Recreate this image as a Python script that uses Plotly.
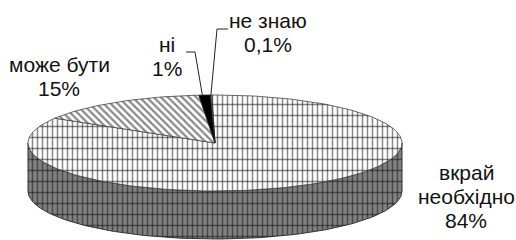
import numpy as np
import plotly.graph_objects as go

# ---- data ----
categories = ["вкрай необхідно", "може бути", "ні", "не знаю"]
values = [84, 15, 1, 0.1]
value_labels = ["84%", "15%", "1%", "0,1%"]
label_lines = [["вкрай", "необхідно"], ["може бути"], ["ні"], ["не знаю"]]

# ---- geometry / style (layout, not data) ----
W, H = 516, 240
CX, CY, A, B, DEPTH = 215, 143, 187, 48, 48
START = -1.0  # degrees, clockwise from 12 o'clock
label_x = [466, 59, 167, 268]
label_y0 = [172, 64, 44, 20]
LINE_H = 24
FONT = dict(family="Liberation Sans, Arial", size=21, color="#111")

def ell(theta_deg, dy=0.0):
    t = np.radians(theta_deg)
    return CX + A * np.sin(t), CY - B * np.cos(t) + dy

total = sum(values)
angles = [v / total * 360 for v in values]
bounds = [START]
for a in angles:
    bounds.append(bounds[-1] + a)

fig = go.Figure()

V_PAT = dict(shape="|", size=5, solidity=0.3, fgcolor="#111")
H_PAT = dict(shape="-", size=11, solidity=0.14, fgcolor="#111", bgcolor="rgba(0,0,0,0)")

# side wall (front half, belongs to first slice)
th = np.linspace(90, 270, 120)
xs_top, ys_top = ell(th)
xs_bot, ys_bot = ell(th[::-1], DEPTH)
side_x = np.concatenate([xs_top, xs_bot, xs_top[:1]])
side_y = np.concatenate([ys_top, ys_bot, ys_top[:1]])
fig.add_trace(go.Scatter(x=side_x, y=side_y, mode="lines", fill="toself",
                         line=dict(color="#333", width=1), fillcolor="#808080",
                         fillpattern=dict(V_PAT, bgcolor="#808080"),
                         hoverinfo="skip", showlegend=False))
fig.add_trace(go.Scatter(x=side_x, y=side_y, mode="lines", fill="toself",
                         line=dict(color="rgba(0,0,0,0)", width=0), fillcolor="rgba(0,0,0,0)",
                         fillpattern=H_PAT, hoverinfo="skip", showlegend=False))

fills = [
    [dict(V_PAT, bgcolor="white"), H_PAT],
    [dict(shape="\\", size=5, solidity=0.45, fgcolor="#111", bgcolor="white")],
    [None],
    [None],
]
solid = ["white", "white", "black", "#7fe0e8"]

for i, cat in enumerate(categories):
    t0, t1 = bounds[i], bounds[i + 1]
    n = max(3, int(abs(t1 - t0) / 1.5))
    th = np.linspace(t0, t1, n)
    ex, ey = ell(th)
    px = np.concatenate([[CX], ex, [CX]])
    py = np.concatenate([[CY], ey, [CY]])
    for j, fp in enumerate(fills[i]):
        kw = dict(x=px, y=py, mode="lines", fill="toself", hoverinfo="skip",
                  showlegend=False, name=cat)
        if fp is None:
            kw.update(fillcolor=solid[i], line=dict(color="#222", width=0.8))
        else:
            if j == 0:
                kw.update(fillcolor=solid[i], line=dict(color="#444", width=0.8))
            else:
                kw.update(fillcolor="rgba(0,0,0,0)", line=dict(color="rgba(0,0,0,0)", width=0))
            kw.update(fillpattern=fp)
        fig.add_trace(go.Scatter(**kw))

# leader lines for the two small slices
leader_start = {2: ([186, 195], [52, 52]), 3: ([228, 217], [29, 29])}
for i, (sx, sy) in leader_start.items():
    ex, ey = ell(bounds[i] + (bounds[i + 1] - bounds[i]) * 0.3)
    fig.add_trace(go.Scatter(x=sx + [ex], y=sy + [ey], mode="lines",
                             line=dict(color="#222", width=1),
                             hoverinfo="skip", showlegend=False))

for i in range(len(categories)):
    lines = label_lines[i] + [value_labels[i]]
    for k, txt in enumerate(lines):
        fig.add_annotation(x=label_x[i], y=label_y0[i] + k * LINE_H, text=txt,
                           showarrow=False, xanchor="center", yanchor="middle",
                           font=FONT)

fig.update_layout(
    width=W, height=H, autosize=False,
    margin=dict(l=0, r=0, t=0, b=0),
    paper_bgcolor="white", plot_bgcolor="white",
    xaxis=dict(range=[0, W], visible=False, fixedrange=True),
    yaxis=dict(range=[H, 0], visible=False, fixedrange=True),
)
fig.write_html("out.html", config={"displayModeBar": False},
               post_script="document.body.style.margin='0';")
